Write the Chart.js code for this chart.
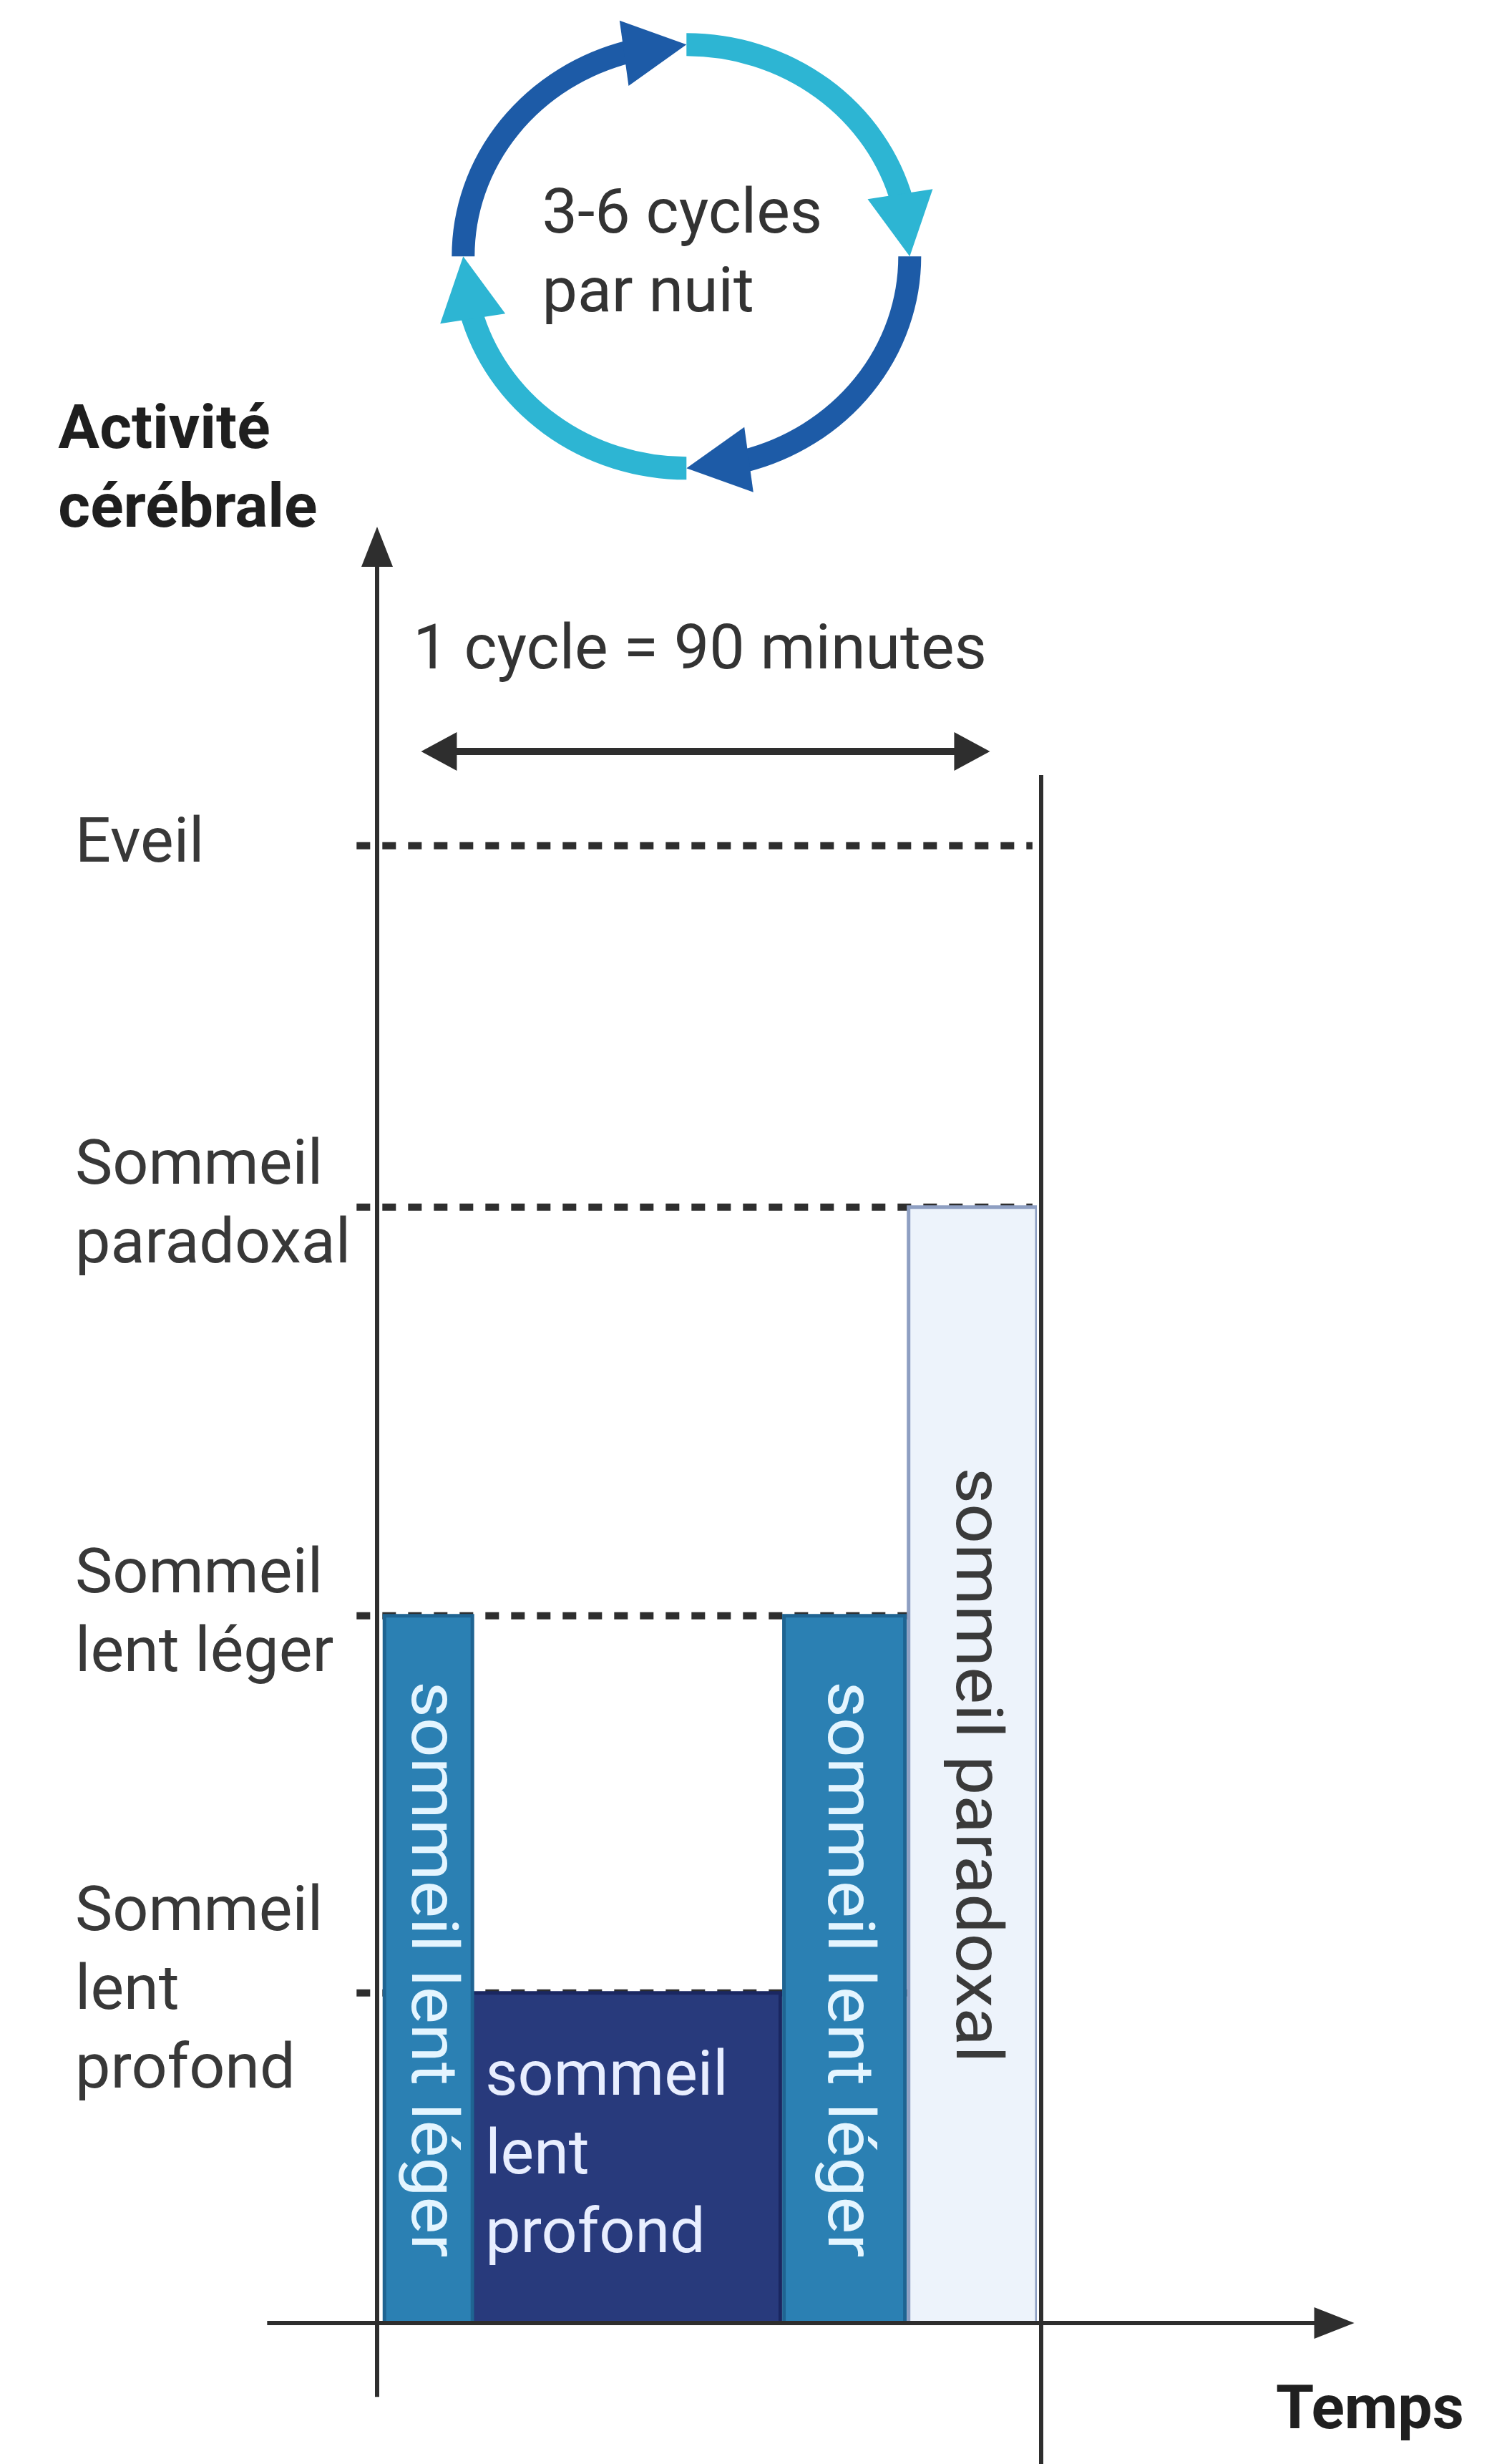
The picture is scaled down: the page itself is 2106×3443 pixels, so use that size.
<!DOCTYPE html>
<html>
<head>
<meta charset="utf-8">
<script src="https://cdn.jsdelivr.net/npm/chart.js@4.4.1/dist/chart.umd.min.js"></script>
<style>
  html, body { margin: 0; padding: 0; background: #ffffff; }
  #wrap { width: 2106px; height: 3443px; position: relative; }
</style>
</head>
<body>
<div id="wrap"><canvas id="cycleChart"></canvas></div>
<script>
// one sleep cycle: stages along time (minutes) and their brain activity level
const stageNames = ['sommeil lent léger', 'sommeil lent profond', 'sommeil lent léger', 'sommeil paradoxal'];
const stageStart = [1, 13, 55.5, 72.5];
const stageEnd = [13, 55, 72, 90];
const stageLevel = [45, 21, 45, 71];
const stageText = ['sommeil lent léger', ['sommeil', 'lent', 'profond'], 'sommeil lent léger', 'sommeil paradoxal'];

// levels shown on the activity axis
const levelValues = [21, 45, 71, 94];
const levelLabels = [['Sommeil', 'lent', 'profond'], ['Sommeil', 'lent léger'], ['Sommeil', 'paradoxal'], 'Eveil'];

const cycleLength = 90;
const cycleLabel = '1 cycle = 90 minutes';
const nightLabel = ['3-6 cycles', 'par nuit'];
const yTitle = ['Activité', 'cérébrale'];
const xTitle = 'Temps';

// colours per stage
const stageFill = ['#2b80b3', '#283a7c', '#2b80b3', '#edf3fb'];
const stageBorder = ['#1f6492', '#1a2761', '#1f6492', '#8e9fc2'];
const stageTextColor = ['#e4f5ff', '#e8eeff', '#e4f5ff', '#3a3a3a'];
const stageVertical = [true, false, true, true];

const INK = '#2e2e2e';
const FONT = 'Roboto, "Noto Sans", sans-serif';

function arrowHead(ctx, tx, ty, dx, dy, len, half) {
  const n = Math.hypot(dx, dy);
  dx /= n; dy /= n;
  const bx = tx - dx * len, by = ty - dy * len;
  ctx.beginPath();
  ctx.moveTo(tx, ty);
  ctx.lineTo(bx - dy * half, by + dx * half);
  ctx.lineTo(bx + dy * half, by - dx * half);
  ctx.closePath();
  ctx.fill();
}

function line(ctx, x1, y1, x2, y2) {
  ctx.beginPath();
  ctx.moveTo(x1, y1);
  ctx.lineTo(x2, y2);
  ctx.stroke();
}

function drawRing(ctx, cx, cy, rx, ry) {
  const segs = [
    [Math.PI, 1.5 * Math.PI, '#1d5ba7'],
    [1.5 * Math.PI, 2 * Math.PI, '#2db5d3'],
    [0, 0.5 * Math.PI, '#1d5ba7'],
    [0.5 * Math.PI, Math.PI, '#2db5d3']
  ];
  const headLen = 88, half = 46, thick = 32;
  segs.forEach(([a0, a1, col]) => {
    const dA = headLen / ((rx + ry) / 2);
    ctx.strokeStyle = col;
    ctx.fillStyle = col;
    ctx.lineWidth = thick;
    ctx.lineCap = 'butt';
    ctx.beginPath();
    ctx.ellipse(cx, cy, rx, ry, 0, a0, a1 - dA * 0.9);
    ctx.stroke();
    const tx = cx + rx * Math.cos(a1), ty = cy + ry * Math.sin(a1);
    const bx = cx + rx * Math.cos(a1 - dA), by = cy + ry * Math.sin(a1 - dA);
    arrowHead(ctx, tx, ty, tx - bx, ty - by, headLen, half);
  });
}

const sketch = {
  id: 'sketch',
  beforeDatasetsDraw(chart) {
    const { ctx, scales: { x, y } } = chart;
    ctx.save();
    ctx.strokeStyle = INK;
    ctx.lineWidth = 10;
    ctx.setLineDash([19, 17]);
    levelValues.forEach(v => {
      line(ctx, x.getPixelForValue(-2.8), y.getPixelForValue(v), x.getPixelForValue(cycleLength - 0.6), y.getPixelForValue(v));
    });
    ctx.restore();
  },
  afterDatasetsDraw(chart) {
    const { ctx, scales: { x, y } } = chart;
    ctx.save();

    // text inside the stages
    stageNames.forEach((name, i) => {
      const left = x.getPixelForValue(stageStart[i]);
      const right = x.getPixelForValue(stageEnd[i]);
      const top = y.getPixelForValue(stageLevel[i]);
      const bottom = y.getPixelForValue(0);
      ctx.fillStyle = stageTextColor[i];
      if (stageVertical[i]) {
        ctx.font = '90px ' + FONT;
        ctx.save();
        ctx.translate((left + right) / 2, (top + bottom) / 2);
        ctx.rotate(Math.PI / 2);
        ctx.scale(1.09, 1);
        ctx.textAlign = 'center';
        ctx.textBaseline = 'middle';
        ctx.fillText(stageText[i], 0, 0);
        ctx.restore();
      } else {
        ctx.font = '88px ' + FONT;
        ctx.textAlign = 'left';
        ctx.textBaseline = 'middle';
        const lines = stageText[i];
        const mid = (top + bottom) / 2;
        lines.forEach((t, k) => ctx.fillText(t, left + 18, mid + (k - (lines.length - 1) / 2) * 110));
      }
    });

    // axes
    ctx.strokeStyle = INK;
    ctx.fillStyle = INK;
    ctx.lineWidth = 6;
    const x0 = x.getPixelForValue(0), y0 = y.getPixelForValue(0);
    const yTop = y.getPixelForValue(114.3);
    line(ctx, x0, y.getPixelForValue(-4.7), x0, yTop + 40);
    arrowHead(ctx, x0, yTop, 0, -1, 56, 22);
    const xEnd = x.getPixelForValue(133.3);
    line(ctx, x.getPixelForValue(-15), y0, xEnd - 40, y0);
    arrowHead(ctx, xEnd, y0, 1, 0, 56, 22);

    // end of cycle
    const xc = x.getPixelForValue(cycleLength) + 6;
    line(ctx, xc, y.getPixelForValue(98.5), xc, chart.height);

    // cycle duration arrow
    const ya = y.getPixelForValue(100);
    const xa1 = x.getPixelForValue(6), xa2 = x.getPixelForValue(83.6);
    ctx.lineWidth = 10;
    line(ctx, xa1 + 40, ya, xa2 - 40, ya);
    arrowHead(ctx, xa1, ya, -1, 0, 50, 27);
    arrowHead(ctx, xa2, ya, 1, 0, 50, 27);

    ctx.textAlign = 'left';
    ctx.textBaseline = 'middle';
    ctx.font = '88px ' + FONT;
    ctx.fillStyle = '#333333';
    ctx.fillText(cycleLabel, x.getPixelForValue(4.9), y.getPixelForValue(106.3));

    // titles
    ctx.font = 'bold 86px ' + FONT;
    ctx.fillStyle = '#1f1f1f';
    ctx.fillText(yTitle[0], x.getPixelForValue(-43.5), y.getPixelForValue(120.3));
    ctx.fillText(yTitle[1], x.getPixelForValue(-43.5), y.getPixelForValue(115.3));
    ctx.fillText(xTitle, x.getPixelForValue(122.6), y.getPixelForValue(-5.7));

    // cycles per night ring
    const rcx = x.getPixelForValue(42.2), rcy = y.getPixelForValue(131.5);
    drawRing(ctx, rcx, rcy, 312, 296);
    ctx.font = '88px ' + FONT;
    ctx.fillStyle = '#333333';
    ctx.fillText(nightLabel[0], x.getPixelForValue(22.5), y.getPixelForValue(134));
    ctx.fillText(nightLabel[1], x.getPixelForValue(22.5), y.getPixelForValue(129));

    ctx.restore();
  }
};

const datasets = stageNames.map((name, i) => ({
  label: name,
  data: [
    { x: stageStart[i], y: 0 },
    { x: stageStart[i], y: stageLevel[i] },
    { x: stageEnd[i], y: stageLevel[i] },
    { x: stageEnd[i], y: 0 }
  ],
  showLine: true,
  fill: 'origin',
  backgroundColor: stageFill[i],
  borderColor: stageBorder[i],
  borderWidth: 5,
  pointRadius: 0,
  tension: 0
}));

new Chart(document.getElementById('cycleChart'), {
  type: 'line',
  data: { datasets },
  options: {
    responsive: true,
    maintainAspectRatio: false,
    animation: false,
    devicePixelRatio: 1,
    events: [],
    layout: { padding: { left: 105, right: 657, top: 1050, bottom: 197 } },
    plugins: { legend: { display: false }, tooltip: { enabled: false } },
    scales: {
      x: { type: 'linear', min: 0, max: cycleLength, display: false },
      y: {
        type: 'linear',
        min: 0,
        max: 100,
        grid: { display: false },
        border: { display: false },
        afterBuildTicks: scale => { scale.ticks = levelValues.map(v => ({ value: v })); },
        afterFit: scale => { scale.width = 422; },
        ticks: {
          autoSkip: false,
          crossAlign: 'far',
          color: '#383838',
          font: { family: FONT, size: 88, lineHeight: 1.25 },
          callback: (value, index) => levelLabels[index]
        }
      }
    }
  },
  plugins: [sketch]
});
</script>
</body>
</html>
